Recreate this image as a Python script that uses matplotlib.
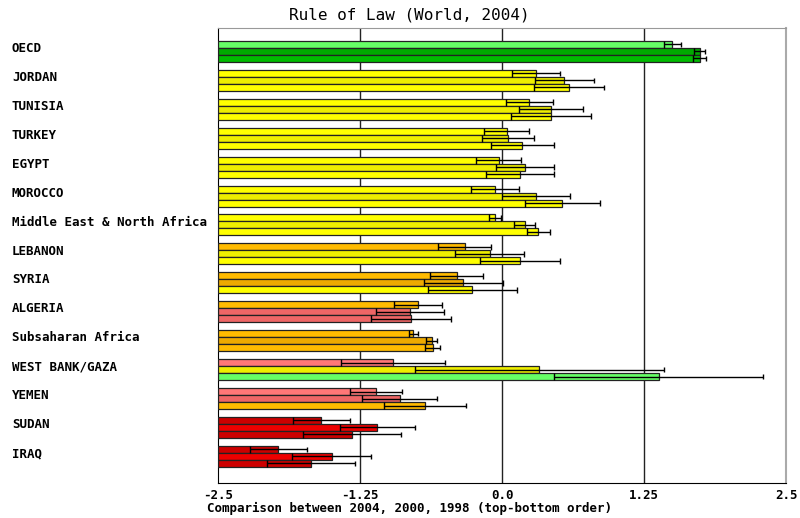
import numpy as np
import matplotlib
matplotlib.use("Agg")
import matplotlib.pyplot as plt
from matplotlib.transforms import blended_transform_factory

mono = "DejaVu Sans Mono"

# groups, top to bottom
groups = ["OECD", "JORDAN", "TUNISIA", "TURKEY", "EGYPT", "MOROCCO",
          "Middle East & North Africa", "LEBANON", "SYRIA", "ALGERIA",
          "Subsaharan Africa", "WEST BANK/GAZA", "YEMEN", "SUDAN", "IRAQ"]

# estimates per year
v2004 = [1.50, 0.30, 0.24, 0.04, -0.03, -0.06, -0.06, -0.33, -0.40, -0.74,
         -0.78, -0.96, -1.11, -1.59, -1.97]
v2000 = [1.74, 0.55, 0.43, 0.05, 0.20, 0.30, 0.20, -0.11, -0.34, -0.81,
         -0.62, 0.33, -0.90, -1.10, -1.50]
v1998 = [1.74, 0.59, 0.43, 0.18, 0.16, 0.53, 0.32, 0.16, -0.26, -0.80,
         -0.61, 1.38, -0.68, -1.32, -1.68]

# standard errors per year
e2004 = [0.077, 0.21, 0.205, 0.20, 0.195, 0.21, 0.055, 0.23, 0.23, 0.21,
         0.037, 0.46, 0.23, 0.25, 0.25]
e2000 = [0.05, 0.26, 0.28, 0.23, 0.255, 0.30, 0.09, 0.30, 0.35, 0.30,
         0.05, 1.10, 0.33, 0.33, 0.35]
e1998 = [0.06, 0.31, 0.35, 0.28, 0.30, 0.33, 0.10, 0.35, 0.39, 0.355,
         0.068, 0.92, 0.36, 0.43, 0.39]

# percentile colours per year
c2004 = ["#66ff66", "#ffff00", "#ffff00", "#ffff00", "#ffff00", "#ffff00",
         "#ffff00", "#ffbb00", "#ffbb00", "#ffbb00", "#ffbb00", "#ff7777",
         "#ff7777", "#cc0000", "#cc0000"]
c2000 = ["#00aa00", "#eeee00", "#eeee00", "#eeee00", "#eeee00", "#eeee00",
         "#eeee00", "#eeee00", "#eeaa00", "#ee6666", "#eeaa00", "#eeee00",
         "#ee6666", "#ee0000", "#ee0000"]
c1998 = ["#00bb00", "#ffff00", "#ffff00", "#ffff00", "#ffff00", "#ffff00",
         "#ffff00", "#ffff00", "#ffff00", "#ee6666", "#ffbb00", "#66ff66",
         "#ffbb00", "#cc0000", "#cc0000"]

xticks = [-2.5, -1.25, 0.0, 1.25, 2.5]
xticklabels = ["-2.5", "-1.25", "0.0", "1.25", "2.5"]
base = -2.5

fig = plt.figure(figsize=(8, 5.18), dpi=100)
ax = fig.add_axes([218 / 800, 1 - 483 / 518, (786 - 218) / 800, (483 - 28) / 518])

h = 0.242
pos = np.arange(len(groups))

for vals, errs, cols, off in [(v2004, e2004, c2004, -1), (v2000, e2000, c2000, 0),
                              (v1998, e1998, c1998, 1)]:
    vals = np.array(vals)
    errs = np.array(errs)
    y = pos + off * h
    ax.barh(y, vals - base, left=base, height=h, color=cols,
            edgecolor="#222222", linewidth=0.9, zorder=3)
    ax.hlines(y, vals - errs, vals + errs, color="black", linewidth=1, zorder=4)
    ax.vlines(vals - errs, y - h / 2, y + h / 2, color="black", linewidth=1, zorder=4)
    ax.vlines(vals + errs, y - h * 0.4, y + h * 0.4, color="black", linewidth=1, zorder=4)

for gx in [-1.25, 0.0, 1.25]:
    ax.axvline(gx, color="#222222", linewidth=1, zorder=1)

ax.set_xlim(-2.5, 2.5)
ax.set_ylim(len(groups) - 1 + 0.92, -0.81)
ax.set_yticks([])
ax.set_xticks(xticks)
ax.set_xticklabels(xticklabels, fontfamily=mono, fontweight="bold", fontsize=9)
ax.tick_params(axis="x", length=0, pad=4)

ax.spines["left"].set_color("black")
ax.spines["bottom"].set_color("black")
ax.spines["top"].set_color("#999999")
ax.spines["right"].set_color("#aaaaaa")
ax.spines["right"].set_linewidth(1.5)

trans = blended_transform_factory(fig.transFigure, ax.transData)
for i, name in enumerate(groups):
    ax.text(12 / 800, i - 0.1, name, transform=trans, ha="left", va="center",
            fontfamily=mono, fontweight="bold", fontsize=9)

fig.text(409 / 800, 1 - 15 / 518, "Rule of Law (World, 2004)", ha="center",
         va="center", fontfamily=mono, fontsize=11.5)
fig.text(410 / 800, 1 - 508 / 518,
         "Comparison between 2004, 2000, 1998 (top-bottom order)",
         ha="center", va="center", fontfamily=mono, fontweight="bold", fontsize=9)

fig.savefig("out.png", dpi=100)
